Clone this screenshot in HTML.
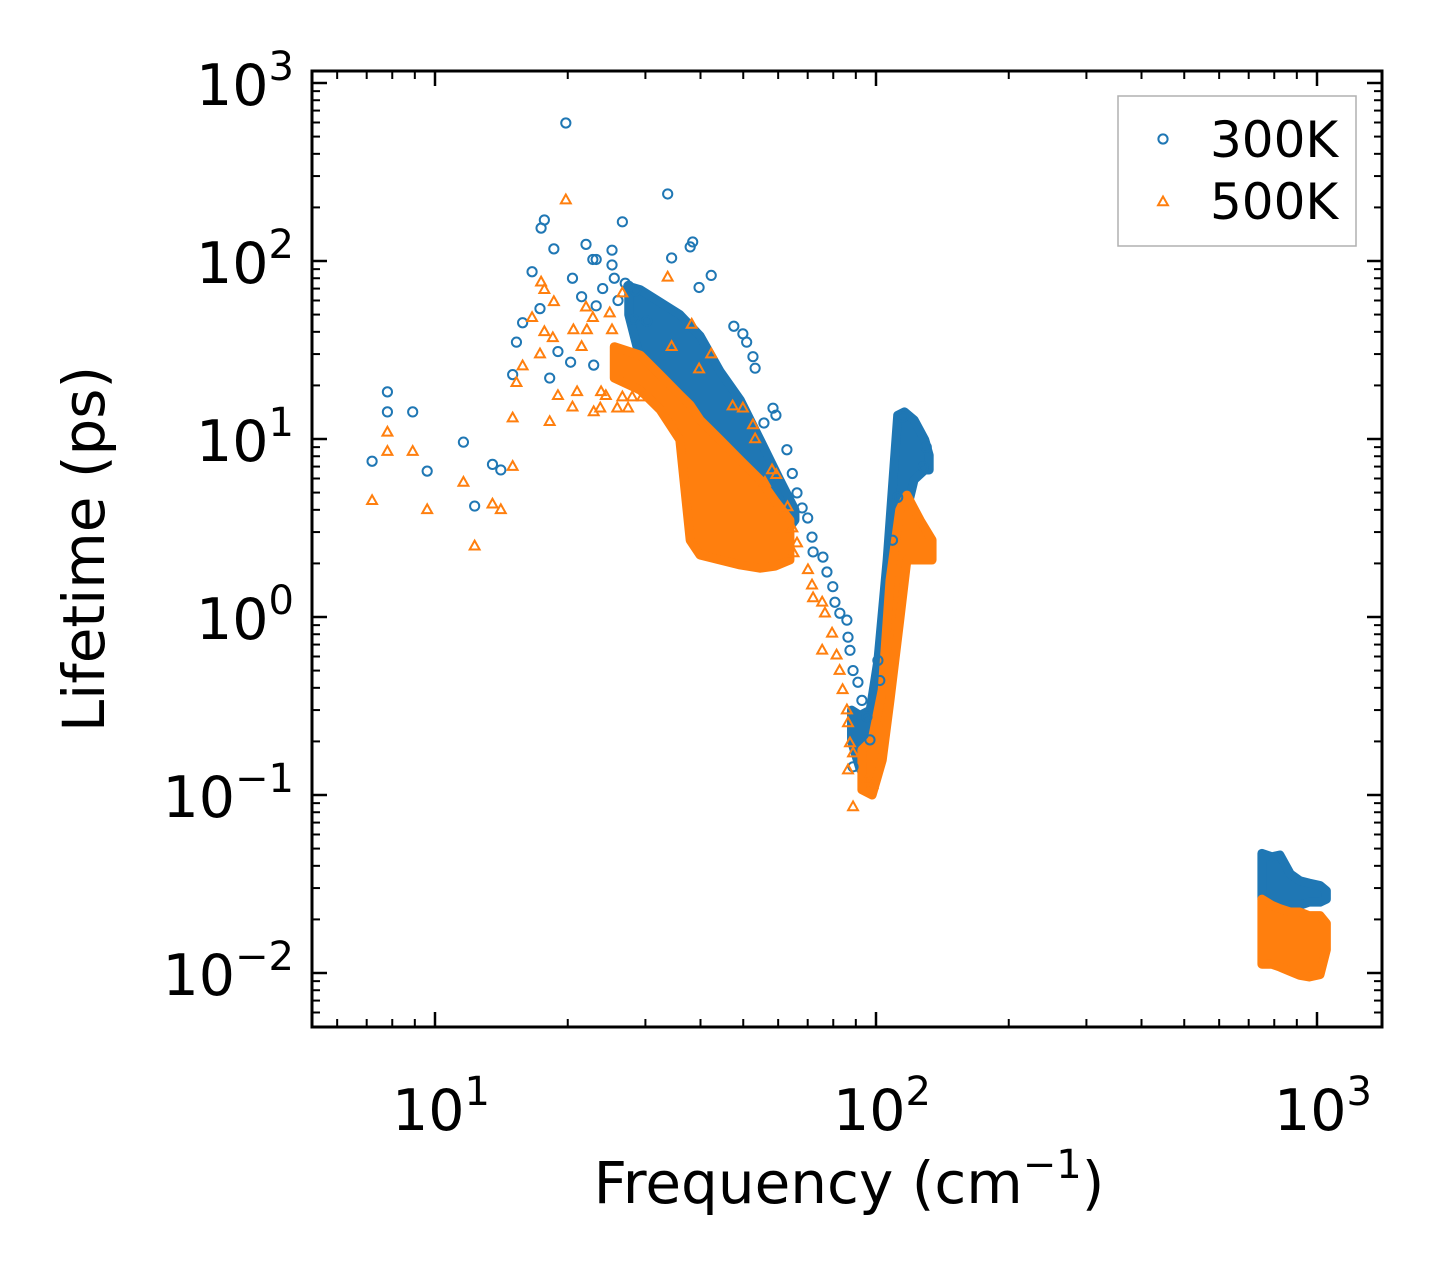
<!DOCTYPE html>
<html><head><meta charset="utf-8"><style>
html,body{margin:0;padding:0;background:#fff;}
svg{display:block;font-family:"DejaVu Sans","Liberation Sans",sans-serif;}
</style></head><body>
<svg id="chart" width="1442" height="1277" viewBox="0 0 1442 1277" xmlns="http://www.w3.org/2000/svg">
<rect width="1442" height="1277" fill="#fff"/>
<g id="bands"></g>
<g id="marks"></g>
<g id="axes"></g>
</svg>
<script>
// ---- data ----
const blueFreq=[7.2,7.8,7.8,8.9,9.6,11.6,12.3,13.5,14.1,15.0,15.3,15.8,16.6,17.4,17.7,18.6,17.3,19.0,18.2,19.8,20.5,21.5,22.0,22.8,23.2,23.2,20.3,22.9,25.2,25.2,26.6,33.7,38.4,37.9,34.4,42.3,39.7,28.2,30.2,47.6,49.9,50.9,52.6,53.2,58.4,59.3,55.7,62.8,64.6,66.2,68,70,71.6,72,75.8,77.4,79.8,80.7,82.8,85.9,86.4,87.3,88.7,91,92.9,95.4,96.9,88.7,101,102,109,112,115,128,130,24,25.5,27,28.5,26,27.5];
const blueLife=[7.5,18.4,14.2,14.2,6.6,9.6,4.2,7.2,6.7,23,35,45,87,153,170,117,54,31,22,596,80,63,124,102,102,56,27,26,115,95,166,238,128,120,104,83,71,47,46,43,39,35,29,25,14.9,13.6,12.3,8.7,6.4,4.98,4.1,3.6,2.81,2.32,2.17,1.79,1.48,1.21,1.05,0.96,0.77,0.65,0.5,0.43,0.34,0.275,0.204,0.144,0.57,0.44,2.7,4.7,13.3,7.0,9.0,70,80,75,68,60,72];
const orangeFreq=[7.2,7.8,7.8,8.9,9.6,11.6,12.3,13.5,14.1,15.0,15.3,15.0,15.8,16.6,17.4,17.7,18.6,17.7,17.3,18.5,18.2,19.0,19.8,21,20.5,22,22.1,20.6,21.5,22.8,22.9,23.8,24.4,23.7,24.9,25.2,26.6,26.6,28,29.5,25.9,27.4,33.7,38.2,42.3,39.7,34.4,47.3,49.9,52.6,53.2,58.1,59.4,56,63,64.6,66.2,65,70.1,71.6,72,75.5,76.6,79.5,75.5,81.4,82.7,84,85.9,86.4,87.3,88.7,86.4,88.7,95.4,98.2];
const orangeLife=[4.5,8.5,10.9,8.5,4.0,5.7,2.5,4.3,4.0,7.0,20.7,13.1,25.7,48,76,69,59,40,30,37,12.5,17.5,220,18.4,15.1,55,41,41,33,48,14.2,18.4,17.5,14.9,51,41,66,17.2,17.2,17.2,14.9,14.9,81,44,30,24.7,33,15.3,14.9,12.0,10,6.7,6.3,5.7,4.15,3.16,2.6,2.29,1.84,1.51,1.28,1.21,1.05,0.81,0.65,0.61,0.5,0.39,0.3,0.254,0.196,0.172,0.138,0.0857,0.121,0.114];
// dense regions (freq, upper lifetime, lower lifetime)
const blueBandFreq=[27.5,29.2,35.9,39.9,44.3,49.2,54.6,60.5,65.5];
const blueBandUpper=[72,69,50,38,24,16.6,9.9,5.9,4.0];
const blueBandLower=[50,28,12.8,4.5,3.5,3.1,2.5,2.7,3.5];
const blueDipFreq=[88,92,97,101,106,112,116,122,129,132];
const blueDipUpper=[0.3,0.28,0.3,0.57,2.1,13.6,14.2,12.8,9.9,8.1];
const blueDipLower=[0.2,0.14,0.15,0.138,0.34,1.25,3.5,5.9,6.7,6.7];
const blueHighFreq=[750,790,824,870,914,960,1016,1050];
const blueHighUpper=[0.047,0.045,0.046,0.036,0.033,0.032,0.031,0.029];
const blueHighLower=[0.026,0.024,0.023,0.024,0.024,0.025,0.025,0.026];
const orangeBandFreq=[25.5,29.2,32.4,35.9,37.9,39.9,44.3,49.2,54.6,59,63.8];
const orangeBandUpper=[33,29.6,22.9,17.7,15.5,12.8,9.9,7.6,5.9,4.5,3.5];
const orangeBandLower=[22,18.8,14.6,9.9,2.7,2.23,2.09,1.96,1.88,1.93,2.09];
const orangeDipFreq=[92.9,98,103.3,107.6,113.2,117.5,125.9,134];
const orangeDipUpper=[0.179,0.204,0.389,1.61,4.0,4.84,3.5,2.71];
const orangeDipLower=[0.107,0.1,0.157,0.342,0.96,2.09,2.09,2.09];
const orangeHighFreq=[750,790,824,870,914,960,1016,1050];
const orangeHighUpper=[0.026,0.024,0.023,0.022,0.022,0.021,0.021,0.019];
const orangeHighLower=[0.0112,0.0112,0.0108,0.0102,0.0097,0.0095,0.0098,0.0135];
const yTickExp=[-2,-1,0,1,2,3];
const xTickExp=[1,2,3];
const legendLabels=["300K","500K"];

// ---- axes ----
const L=312,R=1382,T=71,B=1027;
function X(f){return 435+(Math.log10(f)-1)*441;}
function Y(v){return 973-(Math.log10(v)+2)*178;}
const NS="http://www.w3.org/2000/svg";
function mk(tag,attrs,parent){const e=document.createElementNS(NS,tag);for(const k in attrs)e.setAttribute(k,attrs[k]);parent.appendChild(e);return e;}
const bands=document.getElementById('bands'),marks=document.getElementById('marks'),axes=document.getElementById('axes');
const BLUE="#1f77b4",ORANGE="#ff7f0e";

function band(fr,up,lo,color,name){
  let pts=[];
  for(let i=0;i<fr.length;i++)pts.push(X(fr[i])+","+Y(up[i]));
  for(let i=fr.length-1;i>=0;i--)pts.push(X(fr[i])+","+Y(lo[i]));
  const p=mk('polygon',{points:pts.join(" "),fill:color,stroke:color,'stroke-width':9,'stroke-linejoin':'round'},bands);
  
  
}
band(blueBandFreq,blueBandUpper,blueBandLower,BLUE,'blue-dense-band');
band(blueDipFreq,blueDipUpper,blueDipLower,BLUE,'blue-dip-band');
band(blueHighFreq,blueHighUpper,blueHighLower,BLUE,'blue-high-freq-band');
band(orangeBandFreq,orangeBandUpper,orangeBandLower,ORANGE,'orange-dense-band');
band(orangeDipFreq,orangeDipUpper,orangeDipLower,ORANGE,'orange-dip-band');
band(orangeHighFreq,orangeHighUpper,orangeHighLower,ORANGE,'orange-high-freq-band');

function tri(cx,cy,s){return `${cx},${cy-s} ${cx-s*0.9},${cy+s*0.6} ${cx+s*0.9},${cy+s*0.6}`;}
for(let i=0;i<blueFreq.length;i++){
  const c=mk('circle',{cx:X(blueFreq[i]),cy:Y(blueLife[i]),r:4.6,fill:'none',stroke:BLUE,'stroke-width':2},marks);
  
  
}
for(let i=0;i<orangeFreq.length;i++){
  const p=mk('polygon',{points:tri(X(orangeFreq[i]),Y(orangeLife[i]),5.5),fill:'none',stroke:ORANGE,'stroke-width':2},marks);
  
  
}

// frame
const fr=mk('rect',{x:L,y:T,width:R-L,height:B-T,fill:'none',stroke:'#000','stroke-width':3},axes);


for(let e=0;e<=3;e++){for(let m=1;m<10;m++){const f=m*Math.pow(10,e);const x=X(f);if(x<L||x>R)continue;const len=m==1?15:8;
  mk('line',{x1:x,x2:x,y1:B,y2:B-len,stroke:'#000','stroke-width':m==1?2.5:2},axes);
  mk('line',{x1:x,x2:x,y1:T,y2:T+len,stroke:'#000','stroke-width':m==1?2.5:2},axes);}}
for(let e=-3;e<=3;e++){for(let m=1;m<10;m++){const v=m*Math.pow(10,e);const y=Y(v);if(y<T||y>B)continue;const len=m==1?15:8;
  mk('line',{x1:L,x2:L+len,y1:y,y2:y,stroke:'#000','stroke-width':m==1?2.5:2},axes);
  mk('line',{x1:R,x2:R-len,y1:y,y2:y,stroke:'#000','stroke-width':m==1?2.5:2},axes);}}
function pow10Label(x,y,exp,anchor,name){
  const t=mk('text',{x:x,y:y,'font-size':57,'text-anchor':anchor,fill:'#000'},axes);
  
  
  t.appendChild(document.createTextNode("10"));
  const s=mk('tspan',{dy:-25,'font-size':40},t);
  s.textContent=exp<0?"\u2212"+(-exp):String(exp);
}
yTickExp.forEach(e=>pow10Label(294,Y(Math.pow(10,e))+22,e,'end','y-tick-label'));
xTickExp.forEach(e=>pow10Label(X(Math.pow(10,e))+6,1130,e,'middle','x-tick-label'));
const yt=mk('text',{x:0,y:0,'font-size':58,'text-anchor':'middle',transform:'translate(104,549) rotate(-90)'},axes);
yt.textContent="Lifetime (ps)";


const xt=mk('text',{x:849,y:1203,'font-size':58,'text-anchor':'middle'},axes);


xt.appendChild(document.createTextNode("Frequency (cm"));
const xs=mk('tspan',{dy:-25,'font-size':40},xt);xs.textContent="\u22121";
const xe=mk('tspan',{dy:25},xt);xe.textContent=")";
// legend
const lg=mk('g',{},axes);


mk('rect',{x:1118,y:96,width:238,height:150,fill:'#fff',stroke:'#b0b0b0','stroke-width':1.5},lg);
const e1=mk('g',{},lg);


mk('circle',{cx:1163,cy:139,r:4.6,fill:'none',stroke:BLUE,'stroke-width':2},e1);
const t1=mk('text',{x:1210,y:157,'font-size':50},e1);t1.textContent=legendLabels[0];
const e2=mk('g',{},lg);


mk('polygon',{points:tri(1163,202,5.5),fill:'none',stroke:ORANGE,'stroke-width':2},e2);
const t2=mk('text',{x:1210,y:219,'font-size':50},e2);t2.textContent=legendLabels[1];
</script>
</body></html>
